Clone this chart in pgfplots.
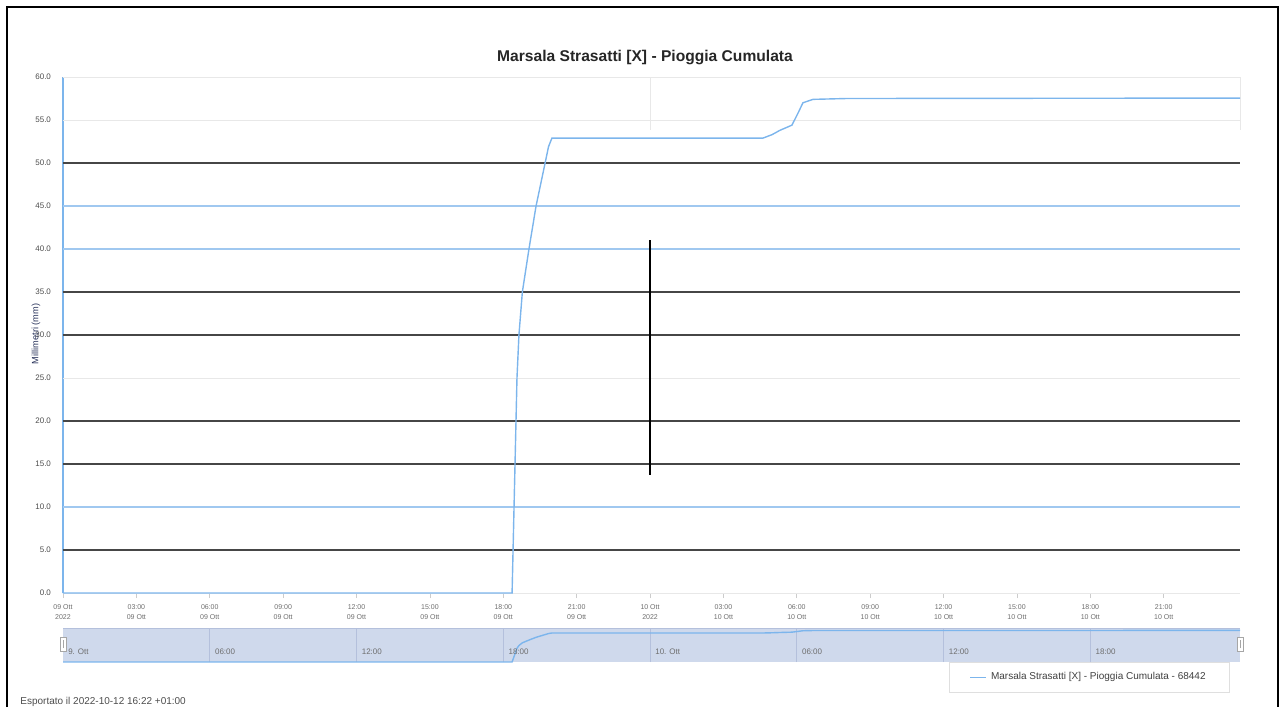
\documentclass[border=0pt]{standalone}
\usepackage{fontspec}
\setmainfont{Liberation Sans}
\usepackage{pgfplots}
\pgfplotsset{compat=1.18}
\usepackage{pgfplotstable}

\definecolor{hcblue}{RGB}{124,181,236}
\definecolor{gridlight}{RGB}{232,232,232}
\definecolor{gridblue}{RGB}{160,200,240}
\definecolor{griddark}{RGB}{70,70,70}
\definecolor{navfill}{RGB}{207,217,236}
\definecolor{navgrid}{RGB}{180,192,220}
\definecolor{ticktext}{RGB}{110,110,110}
\definecolor{ylabcol}{RGB}{40,50,90}

% hours since 09 Oct 2022 00:00, cumulated rain in mm
\pgfplotstableread{
h      mm
0      0
18.36  0
18.40  5
18.48  15
18.52  20
18.56  25
18.64  30
18.78  35
19.05  40
19.34  45
19.71  50
19.85  51.9
19.99  52.9
28.62  52.9
28.99  53.3
29.31  53.8
29.80  54.4
30.05  55.8
30.25  57.0
30.66  57.4
32.05  57.5
48.12  57.55
}\rain

\begin{document}
\begin{tikzpicture}
\useasboundingbox (0,0) rectangle (642pt,353.5pt);
% outer frame
\draw[line width=1pt] (3.6pt,0) -- (3.6pt,350.2pt) -- (639pt,350.2pt) -- (639pt,0);

% title
\node[font=\fontsize{7.8}{9}\selectfont\bfseries, text=black!85] at (322.5pt,324.5pt)
  {Marsala Strasatti [X] - Pioggia Cumulata};

% main chart
\begin{axis}[
  at={(31.5pt,57pt)}, anchor=south west,
  scale only axis, width=588.5pt, height=258pt,
  xmin=0, xmax=48.12, ymin=0, ymax=60,
  axis x line*=bottom, axis y line*=left,
  x axis line style={draw=gridlight, -},
  y axis line style={draw=hcblue, line width=0.6pt, -},
  xtick={0,3,...,45},
  xticklabels={{09 Ott\\2022},{03:00\\09 Ott},{06:00\\09 Ott},{09:00\\09 Ott},
    {12:00\\09 Ott},{15:00\\09 Ott},{18:00\\09 Ott},{21:00\\09 Ott},
    {10 Ott\\2022},{03:00\\10 Ott},{06:00\\10 Ott},{09:00\\10 Ott},
    {12:00\\10 Ott},{15:00\\10 Ott},{18:00\\10 Ott},{21:00\\10 Ott}},
  xticklabel style={font=\fontsize{3.5}{4.7}\selectfont, text=ticktext, align=center},
  x tick style={draw=gray!40, line width=0.4pt},
  tick align=outside, major tick length=2.5pt,
  ytick={0,5,...,60},
  y tick style={draw=none},
  yticklabel style={font=\fontsize{4}{5}\selectfont, text=black!70,
    /pgf/number format/fixed, /pgf/number format/fixed zerofill,
    /pgf/number format/precision=1},
  /pgf/number format/assume math mode=true,
  clip=false,
  legend style={at={(0.9915,-0.163)}, anchor=east, draw=gray!25,
    font=\fontsize{5}{6}\selectfont, text=black!75, inner xsep=10pt, inner ysep=3pt},
  legend cell align=left,
  legend image code/.code={\draw[hcblue, line width=0.6pt] (0pt,0pt) -- (8pt,0pt);},
]
% horizontal grid lines, drawn as they appear
\draw[gridlight, line width=0.5pt] (axis cs:0,60) -- (axis cs:48.12,60);
\draw[gridlight, line width=0.5pt] (axis cs:0,55) -- (axis cs:48.12,55);
\draw[griddark, line width=0.9pt] (axis cs:0,50) -- (axis cs:48.12,50);
\draw[gridblue, line width=0.7pt] (axis cs:0,45) -- (axis cs:48.12,45);
\draw[gridblue, line width=0.7pt] (axis cs:0,40) -- (axis cs:48.12,40);
\draw[griddark, line width=0.8pt] (axis cs:0,35) -- (axis cs:48.12,35);
\draw[griddark, line width=0.8pt] (axis cs:0,30) -- (axis cs:48.12,30);
\draw[gridlight, line width=0.5pt] (axis cs:0,25) -- (axis cs:48.12,25);
\draw[griddark, line width=0.9pt] (axis cs:0,20) -- (axis cs:48.12,20);
\draw[griddark, line width=0.9pt] (axis cs:0,15) -- (axis cs:48.12,15);
\draw[gridblue, line width=0.7pt] (axis cs:0,10) -- (axis cs:48.12,10);
\draw[griddark, line width=0.9pt] (axis cs:0,5) -- (axis cs:48.12,5);
% vertical artefacts
\draw[gridlight, line width=0.5pt] (axis cs:24,60) -- (axis cs:24,53.8);
\draw[gridlight, line width=0.5pt] (axis cs:48.12,60) -- (axis cs:48.12,53.8);
\draw[black, line width=0.8pt] (axis cs:24,41.0) -- (axis cs:24,13.7);

\addplot[hcblue, line width=0.7pt, mark=none] table[x=h, y=mm] {\rain};
\addlegendentry{Marsala Strasatti [X] - Pioggia Cumulata - 68442}
\end{axis}

% y axis title
\node[rotate=90, font=\fontsize{4.6}{5.5}\selectfont, text=ylabcol] at (18pt,186.5pt) {Millimetri (mm)};

% navigator
\begin{axis}[
  at={(31.5pt,22.5pt)}, anchor=south west,
  scale only axis, width=588.5pt, height=17pt,
  xmin=0, xmax=48.12, ymin=0, ymax=62,
  axis lines=none, ticks=none, clip=true,
]
\fill[navfill] (axis cs:0,0) rectangle (axis cs:48.12,62);
\draw[navgrid, line width=0.6pt] (axis cs:0,62) -- (axis cs:48.12,62);
\foreach \t in {6,12,18,24,30,36,42} {
  \edef\tmp{\noexpand\draw[navgrid, line width=0.4pt] (axis cs:\t,0) -- (axis cs:\t,62);}\tmp
}
\addplot[hcblue, line width=0.7pt, mark=none] table[x=h, y=mm] {\rain};
\foreach \t/\l in {0/9. Ott,6/06:00,12/12:00,18/18:00,24/10. Ott,30/06:00,36/12:00,42/18:00} {
  \edef\tmp{\noexpand\node[anchor=west, font=\noexpand\fontsize{4}{5}\noexpand\selectfont,
    text=ticktext, inner sep=0pt] at (axis cs:\t+0.2,18) {\l};}\tmp
}
\end{axis}
% navigator handles
\draw[fill=white, draw=gray!70, line width=0.4pt] (30pt,28pt) rectangle (33pt,35pt);
\draw[gray!70, line width=0.3pt] (31.5pt,29.5pt) -- (31.5pt,33.5pt);
\draw[fill=white, draw=gray!70, line width=0.4pt] (618.5pt,28pt) rectangle (621.5pt,35pt);
\draw[gray!70, line width=0.3pt] (620pt,29.5pt) -- (620pt,33.5pt);

% footer
\node[anchor=west, font=\fontsize{5}{6}\selectfont, text=black!70, inner sep=0pt] at (10pt,2.5pt)
  {Esportato il 2022-10-12 16:22 +01:00};
\end{tikzpicture}
\end{document}
